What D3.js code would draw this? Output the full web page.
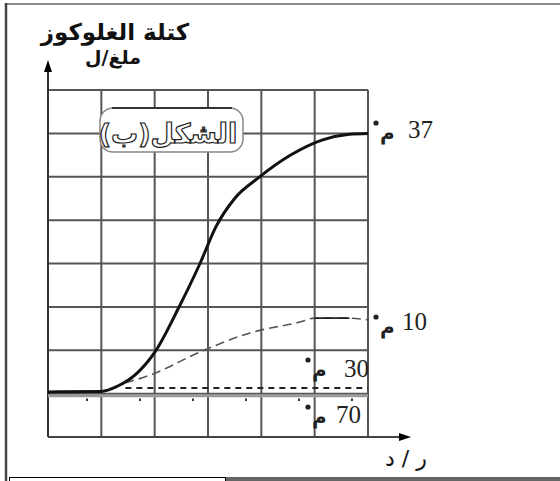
<!DOCTYPE html>
<html><head><meta charset="utf-8">
<script src="https://cdn.jsdelivr.net/npm/d3@7"></script>
<style>body{margin:0;background:#fff}svg{display:block}</style>
</head><body>
<script>
// ---- data ----
const timeTicks = [0,1,2,3,4,5,6];
const massTicks = [0,1,2,3,4,5,6,7,8];
const t37 = [0,1,1.3,1.65,2,2.45,2.85,3.15,3.5,3.95,4.55,5.15,5.65,6];
const v37 = [1.04,1.05,1.17,1.45,1.95,2.98,4.0,4.85,5.5,5.98,6.5,6.85,6.98,7.0];
const t10 = [1.45,1.92,2.85,3.79,4.72,5.0,5.65,6.0];
const v10 = [1.25,1.43,1.96,2.4,2.65,2.74,2.74,2.7];
const t30 = [1.45,6.0];
const v30 = [1.13,1.13];
const t70 = [0,6.0];
const v70 = [0.95,0.95];
const curveLabels = ["37","10","30","70"];
const unitLabel = "م";
const yTitle = "كتلة الغلوكوز";
const yUnit = "ملغ/ل";
const xTitle = "ر / د";
const figTitle = "الشكل(ب)";

const W=560,H=481;
const svg=d3.select("body").append("svg").attr("width",W).attr("height",H);

const x=d3.scaleLinear().domain([0,6]).range([48,368]);
const y=d3.scaleLinear().domain([0,8]).range([437,90]);

// frame
svg.append("line").attr("x1",7).attr("x2",560).attr("y1",4).attr("y2",4).attr("stroke","#8a8a8a").attr("stroke-width",2);
svg.append("line").attr("x1",6).attr("x2",6).attr("y1",3).attr("y2",481).attr("stroke","#444").attr("stroke-width",2.5);
svg.append("line").attr("x1",225).attr("x2",560).attr("y1",479).attr("y2",479).attr("stroke","#666").attr("stroke-width",4);
svg.append("rect").attr("x",9.5).attr("y",477.5).attr("width",216).attr("height",10).attr("fill","#fff").attr("stroke","#000").attr("stroke-width",1);

// grid
const grid=svg.append("g").attr("stroke","#555").attr("stroke-width",2);
grid.selectAll("line.v").data(timeTicks.slice(1)).join("line")
  .attr("x1",d=>x(d)).attr("x2",d=>x(d)).attr("y1",y(8)).attr("y2",y(0));
grid.selectAll("line.h").data(massTicks.slice(1)).join("line")
  .attr("x1",x(0)).attr("x2",x(6)).attr("y1",d=>y(d)).attr("y2",d=>y(d));

// axes
svg.append("line").attr("x1",x(0)).attr("x2",x(0)).attr("y1",y(0)).attr("y2",70).attr("stroke","#333").attr("stroke-width",2);
svg.append("path").attr("d",`M${x(0)},60 L${x(0)-4},72 L${x(0)+4},72 Z`).attr("fill","#000");
svg.append("line").attr("x1",x(0)).attr("x2",400).attr("y1",y(0)).attr("y2",y(0)).attr("stroke","#444").attr("stroke-width",2);
svg.append("path").attr("d",`M411,${y(0)} L399,${y(0)-4} L399,${y(0)+4} Z`).attr("fill","#000");

const zip=(a,b)=>a.map((v,i)=>[v,b[i]]);
const straight=d3.line().x(d=>x(d[0])).y(d=>y(d[1]));

// 70
svg.append("path").datum(zip(t70,v70)).attr("d",straight).attr("fill","none").attr("stroke","#9a9a9a").attr("stroke-width",3);
svg.append("path").datum(zip(t70,v70.map(v=>v-0.09))).attr("d",straight).attr("fill","none").attr("stroke","#333")
  .attr("stroke-width",2.5).attr("stroke-dasharray","2,51").attr("stroke-dashoffset",-38);
// 30
svg.append("path").datum(zip(t30,v30)).attr("d",straight).attr("fill","none").attr("stroke","#222").attr("stroke-width",2).attr("stroke-dasharray","6,5");
// 10
svg.append("path").datum(zip(t10,v10)).attr("d",d3.line().x(d=>x(d[0])).y(d=>y(d[1])).curve(d3.curveMonotoneX)).attr("fill","none").attr("stroke","#555").attr("stroke-width",1.6).attr("stroke-dasharray","9,5");
svg.append("path").datum(zip(t10.slice(5,7),v10.slice(5,7))).attr("d",straight).attr("fill","none").attr("stroke","#222").attr("stroke-width",1.8);
// 37
svg.append("path").datum(zip(t37,v37)).attr("d",d3.line().x(d=>x(d[0])).y(d=>y(d[1])).curve(d3.curveMonotoneX)).attr("fill","none").attr("stroke","#111").attr("stroke-width",3);

// curve labels
const labPos=[[408,138],[402,330],[344,377],[336,423]];
const unitPos=[[380,140],[380,334],[312,377],[312,424]];
curveLabels.forEach((s,i)=>{
  svg.append("text").attr("x",labPos[i][0]).attr("y",labPos[i][1]).text(s)
    .attr("font-family","Liberation Serif").attr("font-size",25).attr("fill","#222");
  svg.append("text").attr("x",unitPos[i][0]).attr("y",unitPos[i][1]).text(unitLabel)
    .attr("font-family","DejaVu Sans").attr("font-weight","bold").attr("font-size",20).attr("fill","#222");
  svg.append("circle").attr("cx",unitPos[i][0]-4).attr("cy",unitPos[i][1]-17).attr("r",2.6).attr("fill","#222");
});

// titles
svg.append("text").attr("x",115).attr("y",40).attr("text-anchor","middle").attr("direction","rtl").text(yTitle)
  .attr("font-family","DejaVu Sans").attr("font-weight","bold").attr("font-size",23).attr("fill","#111");
svg.append("text").attr("x",113).attr("y",64).attr("text-anchor","middle").attr("direction","rtl").text(yUnit)
  .attr("font-family","DejaVu Sans").attr("font-weight","bold").attr("font-size",19).attr("fill","#111");
svg.append("text").attr("x",406).attr("y",466).attr("text-anchor","middle").attr("direction","rtl").text(xTitle)
  .attr("font-family","DejaVu Sans").attr("font-size",22).attr("fill","#111");

// figure label box
svg.append("rect").attr("x",100).attr("y",108).attr("width",143).attr("height",44).attr("rx",13)
  .attr("fill","#fff").attr("stroke","#888").attr("stroke-width",1.5);
svg.append("line").attr("x1",112).attr("x2",232).attr("y1",108).attr("y2",108).attr("stroke","#333").attr("stroke-width",2);
svg.append("text").attr("x",168).attr("y",143).attr("text-anchor","middle").attr("direction","rtl").text(figTitle)
  .attr("font-family","DejaVu Sans").attr("font-weight","bold").attr("font-size",27)
  .attr("fill","#fff").attr("stroke","#222").attr("stroke-width",1.2);
</script>
</body></html>
